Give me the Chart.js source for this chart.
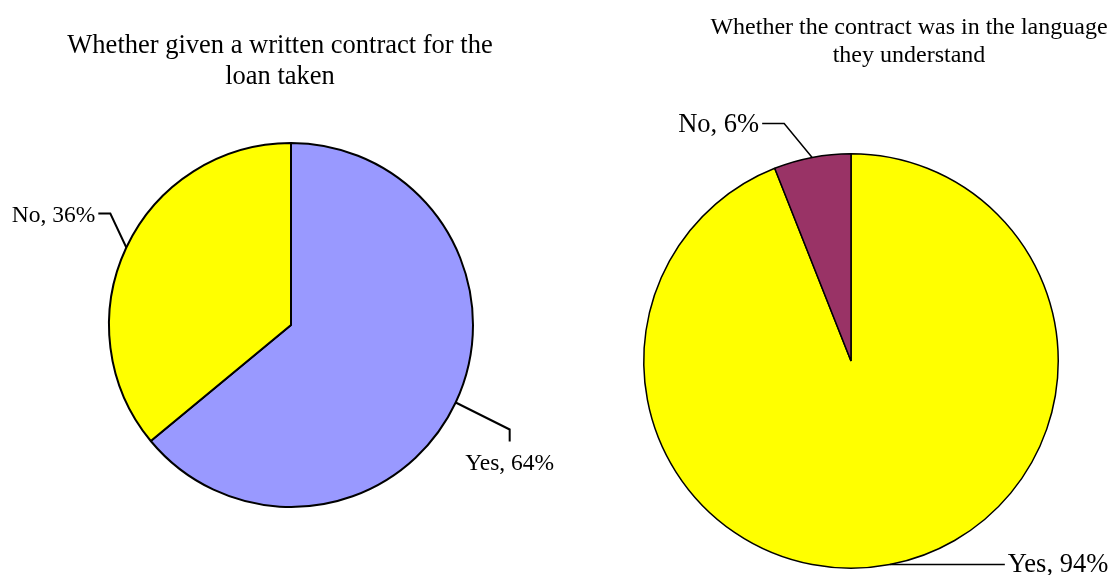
<!DOCTYPE html>
<html>
<head>
<meta charset="utf-8">
<script src="https://cdn.jsdelivr.net/npm/chart.js@4.4.1/dist/chart.umd.min.js"></script>
<style>
  html, body { margin: 0; padding: 0; background: #fff; }
  #wrap { position: relative; width: 1115px; height: 575px; overflow: hidden; }
  canvas { position: absolute; top: 0; }
  #leftChart { left: 0; }
  #rightChart { left: 560px; }
</style>
</head>
<body>
<div id="wrap">
  <canvas id="leftChart" width="560" height="575"></canvas>
  <canvas id="rightChart" width="555" height="575"></canvas>
</div>
<script>
const leftTitle = ['Whether given a written contract for the', 'loan taken'];
const leftLabels = ['Yes', 'No'];
const leftValues = [64, 36];
const leftColors = ['#9999FF', '#FFFF00'];

const rightTitle = ['Whether the contract was in the language', 'they understand'];
const rightLabels = ['Yes', 'No'];
const rightValues = [94, 6];
const rightColors = ['#FFFF00', '#993366'];

const serif = "'Liberation Serif', 'Times New Roman', serif";

// draws title + labels with leader lines (excel style)
const calloutPlugin = {
  id: 'callout',
  afterDraw(chart, args, opts) {
    const c = chart.ctx;
    c.save();
    c.fillStyle = '#000';
    c.textAlign = 'center';
    c.textBaseline = 'alphabetic';
    c.font = opts.titleSize + 'px ' + serif;
    opts.title.forEach((line, i) => {
      c.fillText(line, opts.titleX, opts.titleY + i * opts.titleGap);
    });

    const meta = chart.getDatasetMeta(0);
    const labels = chart.data.labels;
    const values = chart.data.datasets[0].data;
    c.font = opts.labelSize + 'px ' + serif;
    c.strokeStyle = '#000';
    c.lineWidth = opts.lineWidth;
    meta.data.forEach((arc, i) => {
      const p = arc.getProps(['x', 'y', 'startAngle', 'endAngle', 'outerRadius'], true);
      const mid = (p.startAngle + p.endAngle) / 2;
      const ax = p.x + Math.cos(mid) * p.outerRadius;
      const ay = p.y + Math.sin(mid) * p.outerRadius;
      const l = opts.leaders[i];
      const ex = ax + l.elbow[0], ey = ay + l.elbow[1];
      const tx = ex + l.end[0], ty = ey + l.end[1];
      c.beginPath();
      c.moveTo(ax, ay);
      c.lineTo(ex, ey);
      c.lineTo(tx, ty);
      c.stroke();
      c.textAlign = l.align;
      c.textBaseline = 'middle';
      c.fillText(labels[i] + ', ' + values[i] + '%', tx + l.text[0], ty + l.text[1]);
    });
    c.restore();
  }
};

document.addEventListener('DOMContentLoaded', function() {
  new Chart(document.getElementById('leftChart'), {
    type: 'pie',
    data: {
      labels: leftLabels,
      datasets: [{
        data: leftValues,
        backgroundColor: leftColors,
        borderColor: '#000',
        borderWidth: 2
      }]
    },
    options: {
      responsive: false,
      animation: false,
      events: [],
      layout: { padding: { left: 108, right: 86, top: 142, bottom: 67 } },
      plugins: {
        legend: { display: false },
        tooltip: { enabled: false },
        callout: {
          title: leftTitle, titleX: 280, titleY: 53, titleGap: 31, titleSize: 26.5,
          labelSize: 23.5, lineWidth: 2,
          leaders: [
            { elbow: [54, 27], end: [0, 12], align: 'center', text: [0, 22] },
            { elbow: [-16, -34], end: [-12, 0], align: 'right', text: [-3, 2] }
          ]
        }
      }
    },
    plugins: [calloutPlugin]
  });

  new Chart(document.getElementById('rightChart'), {
    type: 'pie',
    data: {
      labels: rightLabels,
      datasets: [{
        data: rightValues,
        backgroundColor: rightColors,
        borderColor: '#000',
        borderWidth: 1.5
      }]
    },
    options: {
      responsive: false,
      animation: false,
      events: [],
      layout: { padding: { left: 83, right: 56, top: 153, bottom: 6 } },
      plugins: {
        legend: { display: false },
        tooltip: { enabled: false },
        callout: {
          title: rightTitle, titleX: 349, titleY: 34, titleGap: 28, titleSize: 24,
          labelSize: 26.5, lineWidth: 1.5,
          leaders: [
            { elbow: [115, 0], end: [0, 0], align: 'left', text: [3, 0] },
            { elbow: [-28, -34], end: [-22, 0], align: 'right', text: [-3, 2] }
          ]
        }
      }
    },
    plugins: [calloutPlugin]
  });
});
</script>
</body>
</html>
